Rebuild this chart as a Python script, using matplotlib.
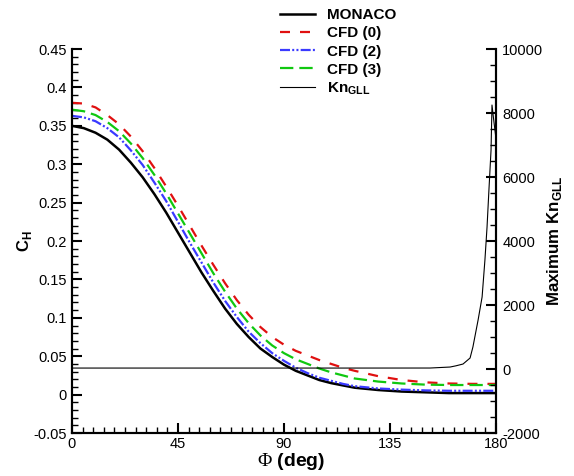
import numpy as np
import matplotlib
matplotlib.use("Agg")
import matplotlib.pyplot as plt
from matplotlib.ticker import MultipleLocator, FixedLocator

plt.rcParams['font.family'] = ['Liberation Sans', 'DejaVu Sans']
plt.rcParams['axes.unicode_minus'] = False
plt.rcParams['mathtext.fontset'] = 'custom'
plt.rcParams['mathtext.rm'] = 'Liberation Serif'

# heat transfer coefficient vs angle
phi = [0, 5, 10, 15, 20, 25, 30, 35, 40, 45, 50, 55, 60, 65, 70, 75, 80, 85, 90,
       95, 100, 105, 110, 115, 120, 130, 140, 150, 160, 170, 180]
ch_monaco = [0.350, 0.347, 0.341, 0.332, 0.319, 0.302, 0.283, 0.261, 0.237, 0.211,
             0.185, 0.159, 0.135, 0.112, 0.092, 0.075, 0.060, 0.049, 0.039,
             0.031, 0.025, 0.019, 0.015, 0.012, 0.009, 0.006, 0.004, 0.003, 0.002, 0.002, 0.002]
ch_cfd0 = [0.380, 0.379, 0.374, 0.364, 0.352, 0.336, 0.317, 0.295, 0.271, 0.246,
           0.220, 0.194, 0.169, 0.145, 0.123, 0.104, 0.088, 0.075, 0.065,
           0.057, 0.051, 0.045, 0.040, 0.035, 0.031, 0.024, 0.019, 0.016, 0.0145, 0.014, 0.014]
ch_cfd2 = [0.363, 0.361, 0.356, 0.347, 0.335, 0.318, 0.299, 0.276, 0.252, 0.225,
           0.198, 0.172, 0.146, 0.122, 0.101, 0.082, 0.067, 0.054, 0.044,
           0.035, 0.028, 0.022, 0.018, 0.014, 0.011, 0.008, 0.0065, 0.0055, 0.005, 0.005, 0.005]
ch_cfd3 = [0.371, 0.369, 0.364, 0.355, 0.343, 0.327, 0.308, 0.286, 0.262, 0.236,
           0.210, 0.184, 0.158, 0.134, 0.112, 0.093, 0.077, 0.064, 0.054,
           0.046, 0.040, 0.034, 0.029, 0.025, 0.021, 0.017, 0.0145, 0.013, 0.0125, 0.0125, 0.0125]

# maximum Knudsen number (GLL)
phi_kn = [0, 30, 60, 90, 120, 152, 160.5, 163, 166, 169, 170.2, 172.4, 174.1, 175.3,
          176.2, 177.0, 177.9, 178.3, 179.0, 180]
kn_gll = [30, 30, 30, 30, 30, 31, 62, 100, 156, 344, 688, 1531, 2250, 3406,
          4438, 5594, 6844, 8250, 7800, 7200]

yticks = [-0.05, 0, 0.05, 0.1, 0.15, 0.2, 0.25, 0.3, 0.35, 0.4, 0.45]
ytick_labels = ['-0.05', '0', '0.05', '0.1', '0.15', '0.2', '0.25', '0.3', '0.35', '0.4', '0.45']
kn_ticks = [-2000, 0, 2000, 4000, 6000, 8000, 10000]

fig = plt.figure(figsize=(5.74, 4.76), dpi=100)
ax = fig.add_axes([0.1254, 0.0903, 0.7387, 0.8067])

ax.plot(phi, ch_monaco, color='black', lw=1.8, label='MONACO')
ax.plot(phi, ch_cfd0, color='#e01010', lw=1.6, dashes=(4.5, 4.5), label='CFD (0)')
ax.plot(phi, ch_cfd2, color='#3a3aff', lw=1.6, dashes=(4.5, 1.0, 0.9, 1.0, 0.9, 1.0), label='CFD (2)')
ax.plot(phi, ch_cfd3, color='#10c810', lw=1.6, dashes=(6, 2.7), label='CFD (3)')

ax2 = ax.twinx()
ln, = ax2.plot(phi_kn, kn_gll, color='black', lw=0.8, label='Kn$_{\\mathregular{GLL}}$')

ax.set_xlim(0, 180)
ax.set_ylim(-0.05, 0.45)
ax2.set_ylim(-2000, 10000)

ax.xaxis.set_major_locator(FixedLocator([0, 45, 90, 135, 180]))
ax.xaxis.set_minor_locator(MultipleLocator(4.5))
ax.set_yticks(yticks)
ax.set_yticklabels(ytick_labels)
ax.yaxis.set_minor_locator(MultipleLocator(0.01))
ax2.set_yticks(kn_ticks)
ax2.yaxis.set_minor_locator(MultipleLocator(500))

for a in (ax, ax2):
    a.spines['top'].set_visible(False)
    for s in a.spines.values():
        s.set_linewidth(1.5)
    a.tick_params(which='major', direction='in', length=7, width=1.5, labelsize=10.5)
    a.tick_params(which='minor', direction='in', length=4, width=1.0)
ax.tick_params(axis='y', which='both', right=False)
ax.tick_params(axis='x', which='both', top=False, pad=3)
ax2.tick_params(axis='y', which='major', pad=4.5)

ax.set_xlabel('$\\Phi$ (deg)', fontsize=14, fontweight='bold')
ax.xaxis.set_label_coords(0.517, -0.048)
ax.set_ylabel('C$_{\\mathregular{H}}$', fontsize=12, fontweight='bold')
ax.yaxis.set_label_coords(-0.09, 0.5)
ax2.set_ylabel('Maximum Kn$_{\\mathregular{GLL}}$', fontsize=12.2, fontweight='bold', labelpad=1)

h1, l1 = ax.get_legend_handles_labels()
leg = ax.legend(h1 + [ln], l1 + [ln.get_label()], loc='upper left',
                bbox_to_anchor=(0.476, 1.122), frameon=False, handlelength=2.3,
                handletextpad=0.8, labelspacing=0.27, borderaxespad=0,
                prop={'weight': 'bold', 'size': 11})

fig.savefig('out.png', dpi=100)
